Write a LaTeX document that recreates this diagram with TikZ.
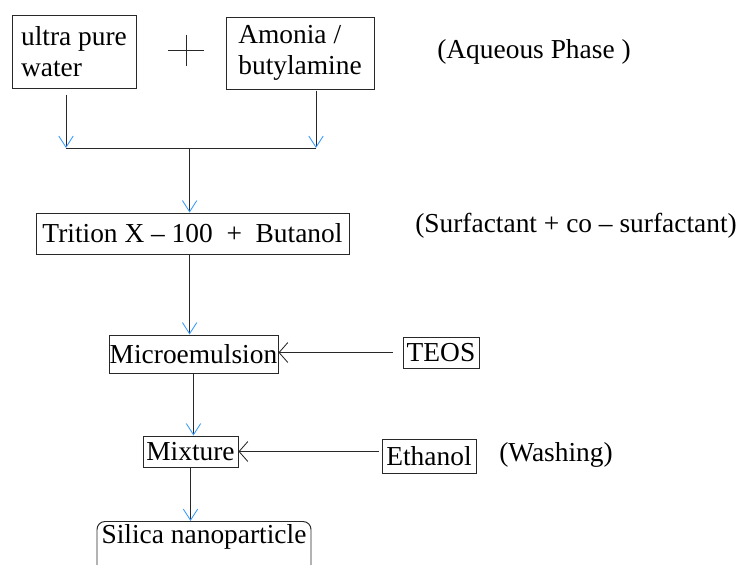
\documentclass[tikz,border=0pt]{standalone}
\usepackage{fontspec}
\setmainfont{Liberation Serif}
\usetikzlibrary{arrows.meta}
\definecolor{ArrowBlue}{RGB}{51,153,255}
\definecolor{LineGray}{RGB}{40,40,40}

\begin{document}
\begin{tikzpicture}[
    box/.style={draw=LineGray, line width=0.7pt, inner xsep=0pt, inner ysep=0pt, font=\fontsize{19.5}{22}\selectfont},
    note/.style={font=\fontsize{19.5}{22}\selectfont},
    link/.style={draw=LineGray, line width=0.6pt},
    flow/.style={link, -{Straight Barb[color=ArrowBlue, length=0.28cm, width=0.36cm]}},
    feed/.style={link, -{Straight Barb[length=0.22cm, width=0.5cm]}}
]
    \clip (0,0) rectangle (18.45,-14.1);

    % Aqueous phase
    \node[box, align=left, minimum width=3.1cm, minimum height=1.825cm] (water) at (1.85,-1.29) {ultra pure\\water};
    \node[box, align=left, minimum width=3.7cm, minimum height=1.8cm] (amonia) at (7.5,-1.325) {Amonia /\\butylamine};
    \coordinate (plus) at (4.65,-1.2625);
    \draw[link] ([xshift=-0.45cm]plus) -- ([xshift=0.45cm]plus)
                ([yshift=0.39cm]plus) -- ([yshift=-0.39cm]plus);
    \node[note] (aqueous) at (13.35,-1.3) {(Aqueous Phase )};

    % Joining the two
    \coordinate (jl) at (1.65,-3.7);
    \coordinate (jr) at (7.9,-3.7);
    \coordinate (jm) at (4.74,-3.7);
    \draw[flow, shorten <=0.15cm] (water.south -| jl) -- (jl);
    \draw[flow, shorten <=0.03cm] (amonia.south -| jr) -- (jr);
    \draw[link] (jl) -- (jr);

    % Surfactant
    \node[box, minimum width=7.825cm, minimum height=1.025cm] (trition) at (4.8125,-5.8375) {Trition X -- 100~~+~~Butanol};
    \node[note] (surf) at (14.4,-5.65) {(Surfactant + co -- surfactant)};
    \draw[flow] (jm) -- (jm |- trition.north);

    % Microemulsion
    \node[box, minimum width=4.225cm, minimum height=0.95cm] (micro) at (4.8375,-8.85) {Microemulsion};
    \node[box, minimum width=1.9cm, minimum height=0.775cm] (teos) at (11.025,-8.8125) {TEOS};
    \draw[flow] (trition.south -| jm) -- (jm |- micro.north);
    \draw[feed, shorten <=0.25cm] (teos.west) -- (teos.west -| micro.east);

    % Washing
    \node[box, minimum width=2.375cm, minimum height=0.775cm] (mixture) at (4.7625,-11.2875) {Mixture};
    \node[box, minimum width=2.35cm, minimum height=0.85cm] (ethanol) at (10.725,-11.4) {Ethanol};
    \node[note] (washing) at (13.9,-11.375) {(Washing)};
    \draw[flow] (micro.south) -- (micro.south |- mixture.north);
    \draw[feed] ([xshift=-0.075cm]ethanol.west |- mixture.east) -- (mixture.east);

    % Product
    \node[box, rounded corners=0.2cm, minimum width=5.35cm, text height=0.55cm, text depth=1cm, anchor=north] (silica) at (5.1,-13.025) {Silica nanoparticle};
    \draw[flow] (mixture.south) -- (mixture.south |- silica.north);
\end{tikzpicture}
\end{document}
